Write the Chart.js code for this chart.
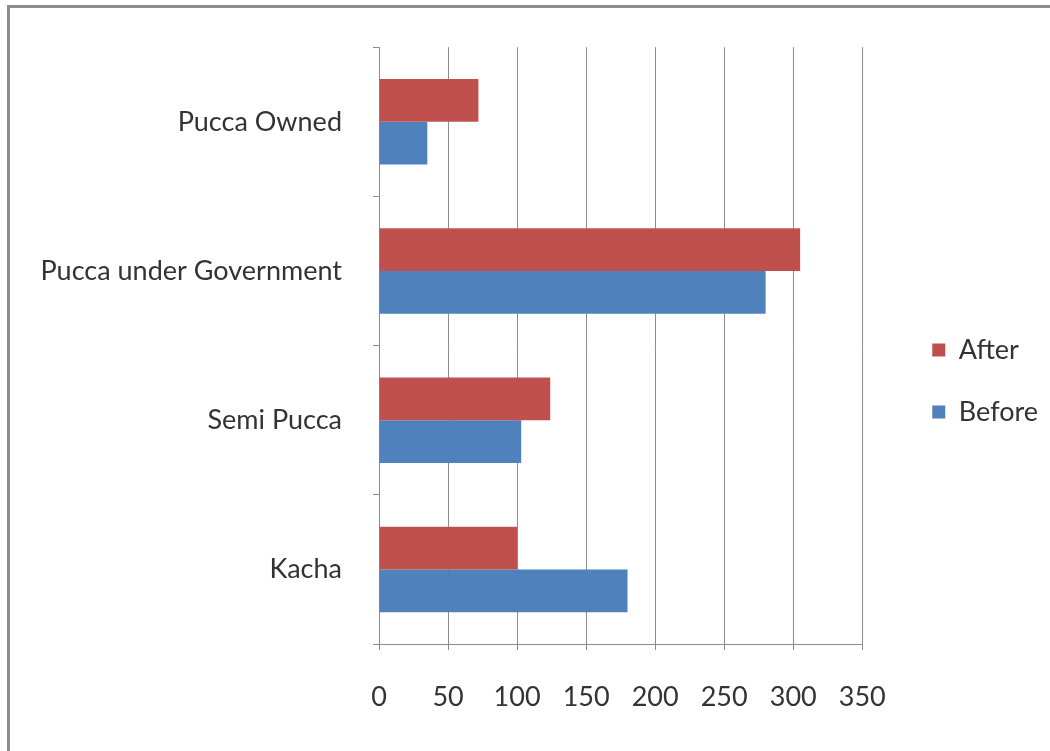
<!DOCTYPE html>
<html>
<head>
<meta charset="utf-8">
<script src="https://cdn.jsdelivr.net/npm/chart.js@4/dist/chart.umd.min.js"></script>
<style>
  html, body { margin: 0; padding: 0; background: #ffffff; overflow: hidden; }
  #c { display: block; }
</style>
</head>
<body>
<canvas id="c" width="1050" height="751"></canvas>
<script>
const categories = ['Pucca Owned', 'Pucca under Government', 'Semi Pucca', 'Kacha'];
const afterValues = [72, 305, 124, 100];
const beforeValues = [35, 280, 103, 180];
const xTicks = [0, 50, 100, 150, 200, 250, 300, 350];
const seriesNames = ['After', 'Before'];

const FONT = { family: 'Lato, "Open Sans", sans-serif', size: 27 };
const GRID = '#8c8c8c';
const TEXT = '#333333';

const frameBorder = {
  id: 'frameBorder',
  beforeDraw(chart) {
    const ctx = chart.ctx;
    ctx.save();
    ctx.fillStyle = '#ffffff';
    ctx.fillRect(0, 0, chart.width, chart.height);
    ctx.fillStyle = '#8c8c8c';
    ctx.fillRect(7, 5, chart.width - 7, 3);
    ctx.fillRect(7, 5, 3, chart.height - 5);
    ctx.restore();
  }
};

new Chart(document.getElementById('c'), {
  type: 'bar',
  data: {
    labels: categories,
    datasets: [
      { label: seriesNames[0], data: afterValues, backgroundColor: '#C0504D', borderWidth: 0,
        categoryPercentage: 0.573, barPercentage: 1.0 },
      { label: seriesNames[1], data: beforeValues, backgroundColor: '#4F81BD', borderWidth: 0,
        categoryPercentage: 0.573, barPercentage: 1.0 }
    ]
  },
  plugins: [frameBorder],
  options: {
    indexAxis: 'y',
    responsive: false,
    animation: false,
    layout: { padding: { top: 44, bottom: 33, left: 0, right: 2 } },
    plugins: {
      legend: {
        position: 'right',
        labels: { font: FONT, color: TEXT, boxWidth: 13, boxHeight: 13, padding: 35 }
      },
      tooltip: { enabled: false }
    },
    scales: {
      x: {
        min: 0, max: 350,
        afterBuildTicks: s => { s.ticks = xTicks.map(v => ({ value: v })); },
        ticks: { font: FONT, color: TEXT, padding: 31 },
        grid: { color: GRID, lineWidth: 1, tickLength: 6, tickColor: GRID },
        border: { display: true, color: GRID, width: 1 },
        afterFit: s => { s.height = 74; }
      },
      y: {
        ticks: { font: FONT, color: TEXT, padding: 31 },
        grid: { drawOnChartArea: false, offset: true, tickLength: 6, color: GRID, tickColor: GRID },
        border: { display: true, color: GRID, width: 1 },
        afterFit: s => { s.width = 379; }
      },
      y2: {
        position: 'right',
        type: 'category',
        ticks: { display: false },
        grid: { display: false },
        border: { display: false },
        afterFit: s => { s.width = 35; }
      }
    }
  }
});
</script>
</body>
</html>
